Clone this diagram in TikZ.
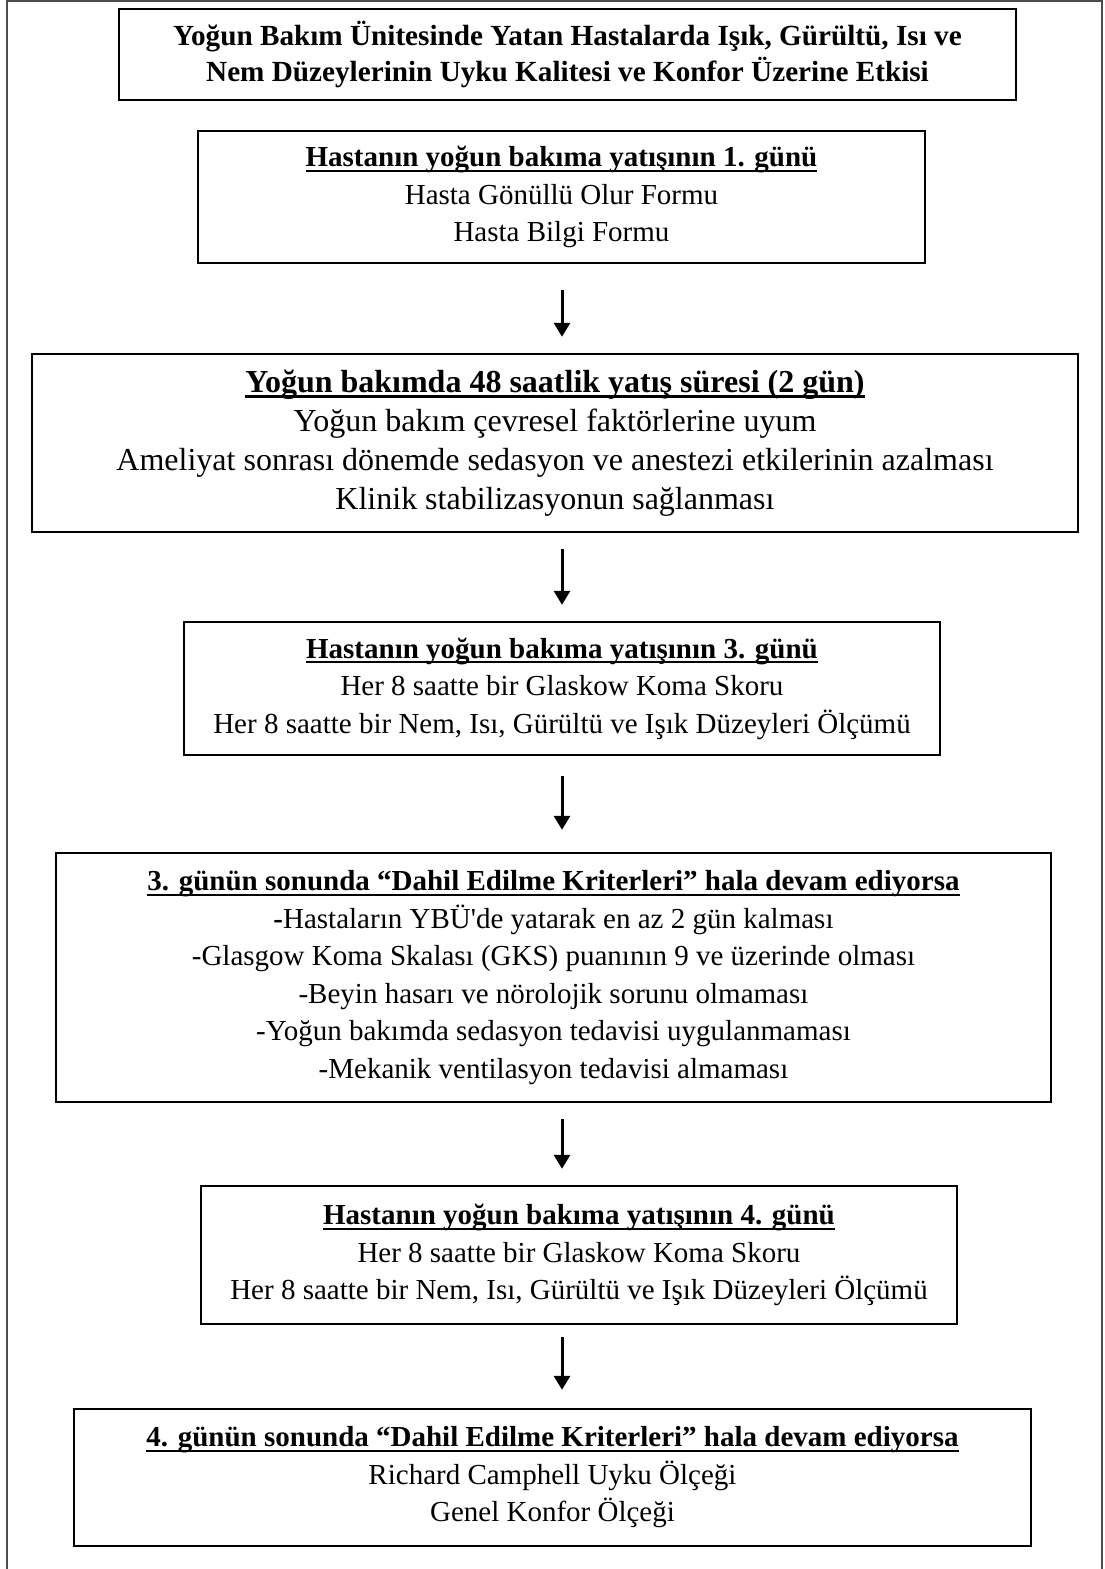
\documentclass[tikz,border=0pt]{standalone}
\usepackage{fontspec}
\setmainfont{Liberation Serif}[Ligatures=TeXOff]
\usetikzlibrary{arrows.meta, positioning}

% bold heading with a heavy underline
\newsavebox\hdrbox
\newcommand{\hdr}[1]{\leavevmode\sbox\hdrbox{\bfseries #1}%
  \rlap{\rule[-2.6pt]{\wd\hdrbox}{1.1pt}}\usebox\hdrbox}

\begin{document}
\begin{tikzpicture}[x=0.5pt, y=-0.5pt,
    stagebox/.style={draw, line width=1.2pt, inner sep=0pt, align=center},
    body/.style={font=\fontsize{14.5}{18.75}\selectfont},
    flow/.style={-{Triangle[width=8pt,length=7pt]}, line width=1.5pt,
                 shorten <=8pt, shorten >=8pt},
]
\useasboundingbox (0,0) rectangle (1104,1569);
% page frame
\draw[line width=0.8pt, black!70] (7,1569) -- (7,1) -- (1102,1) -- (1102,1569);

\node[stagebox, line width=1.4pt, minimum width=448.5pt, minimum height=45.5pt,
      font=\fontsize{14.6}{17.5}\selectfont\bfseries] (title) at (567.5,54.5)
  {Yoğun Bakım Ünitesinde Yatan Hastalarda Işık, Gürültü, Isı ve\\
   Nem Düzeylerinin Uyku Kalitesi ve Konfor Üzerine Etkisi};

\node[stagebox, body, minimum width=363.5pt, minimum height=66pt] (day1) at (561.5,197)
  {\hdr{Hastanın yoğun bakıma yatışının 1. günü}\\
   Hasta Gönüllü Olur Formu\\ Hasta Bilgi Formu};

\node[stagebox, font=\fontsize{16}{19.5}\selectfont,
      minimum width=523pt, minimum height=89pt] (wait48) at (555,443)
  {\hdr{Yoğun bakımda 48 saatlik yatış süresi (2 gün)}\\
   Yoğun bakım çevresel faktörlerine uyum\\
   Ameliyat sonrası dönemde sedasyon ve anestezi etkilerinin azalması\\
   Klinik stabilizasyonun sağlanması};

\node[stagebox, body, minimum width=378pt, minimum height=66.5pt] (day3) at (562,688.5)
  {\hdr{Hastanın yoğun bakıma yatışının 3. günü}\\
   Her 8 saatte bir Glaskow Koma Skoru\\
   Her 8 saatte bir Nem, Isı, Gürültü ve Işık Düzeyleri Ölçümü};

\node[stagebox, body, minimum width=497.5pt, minimum height=124.5pt] (check3) at (553.5,977.5)
  {\hdr{3. günün sonunda “Dahil Edilme Kriterleri” hala devam ediyorsa}\\
   \textbf{-}Hastaların YBÜ'de yatarak en az 2 gün kalması\\
   -Glasgow Koma Skalası (GKS) puanının 9 ve üzerinde olması\\
   -Beyin hasarı ve nörolojik sorunu olmaması\\
   -Yoğun bakımda sedasyon tedavisi uygulanmaması\\
   -Mekanik ventilasyon tedavisi almaması};

\node[stagebox, body, minimum width=378pt, minimum height=69pt] (day4) at (579,1255)
  {\hdr{Hastanın yoğun bakıma yatışının 4. günü}\\
   Her 8 saatte bir Glaskow Koma Skoru\\
   Her 8 saatte bir Nem, Isı, Gürültü ve Işık Düzeyleri Ölçümü};

\node[stagebox, body, minimum width=478.5pt, minimum height=68.5pt] (check4) at (552.5,1477.5)
  {\hdr{4. günün sonunda “Dahil Edilme Kriterleri” hala devam ediyorsa}\\
   Richard Camphell Uyku Ölçeği\\ Genel Konfor Ölçeği};

\coordinate (ax) at (562,0);
\draw[flow, shorten <=13pt] (day1.south -| ax) -- (wait48.north -| ax);
\draw[flow] (wait48.south -| ax) -- (day3.north -| ax);
\draw[flow, shorten <=10pt, shorten >=11pt] (day3.south -| ax) -- (check3.north -| ax);
\draw[flow] (check3.south -| ax) -- (day4.north -| ax);
\draw[flow, shorten <=6pt, shorten >=9pt] (day4.south -| ax) -- (check4.north -| ax);
\end{tikzpicture}
\end{document}
